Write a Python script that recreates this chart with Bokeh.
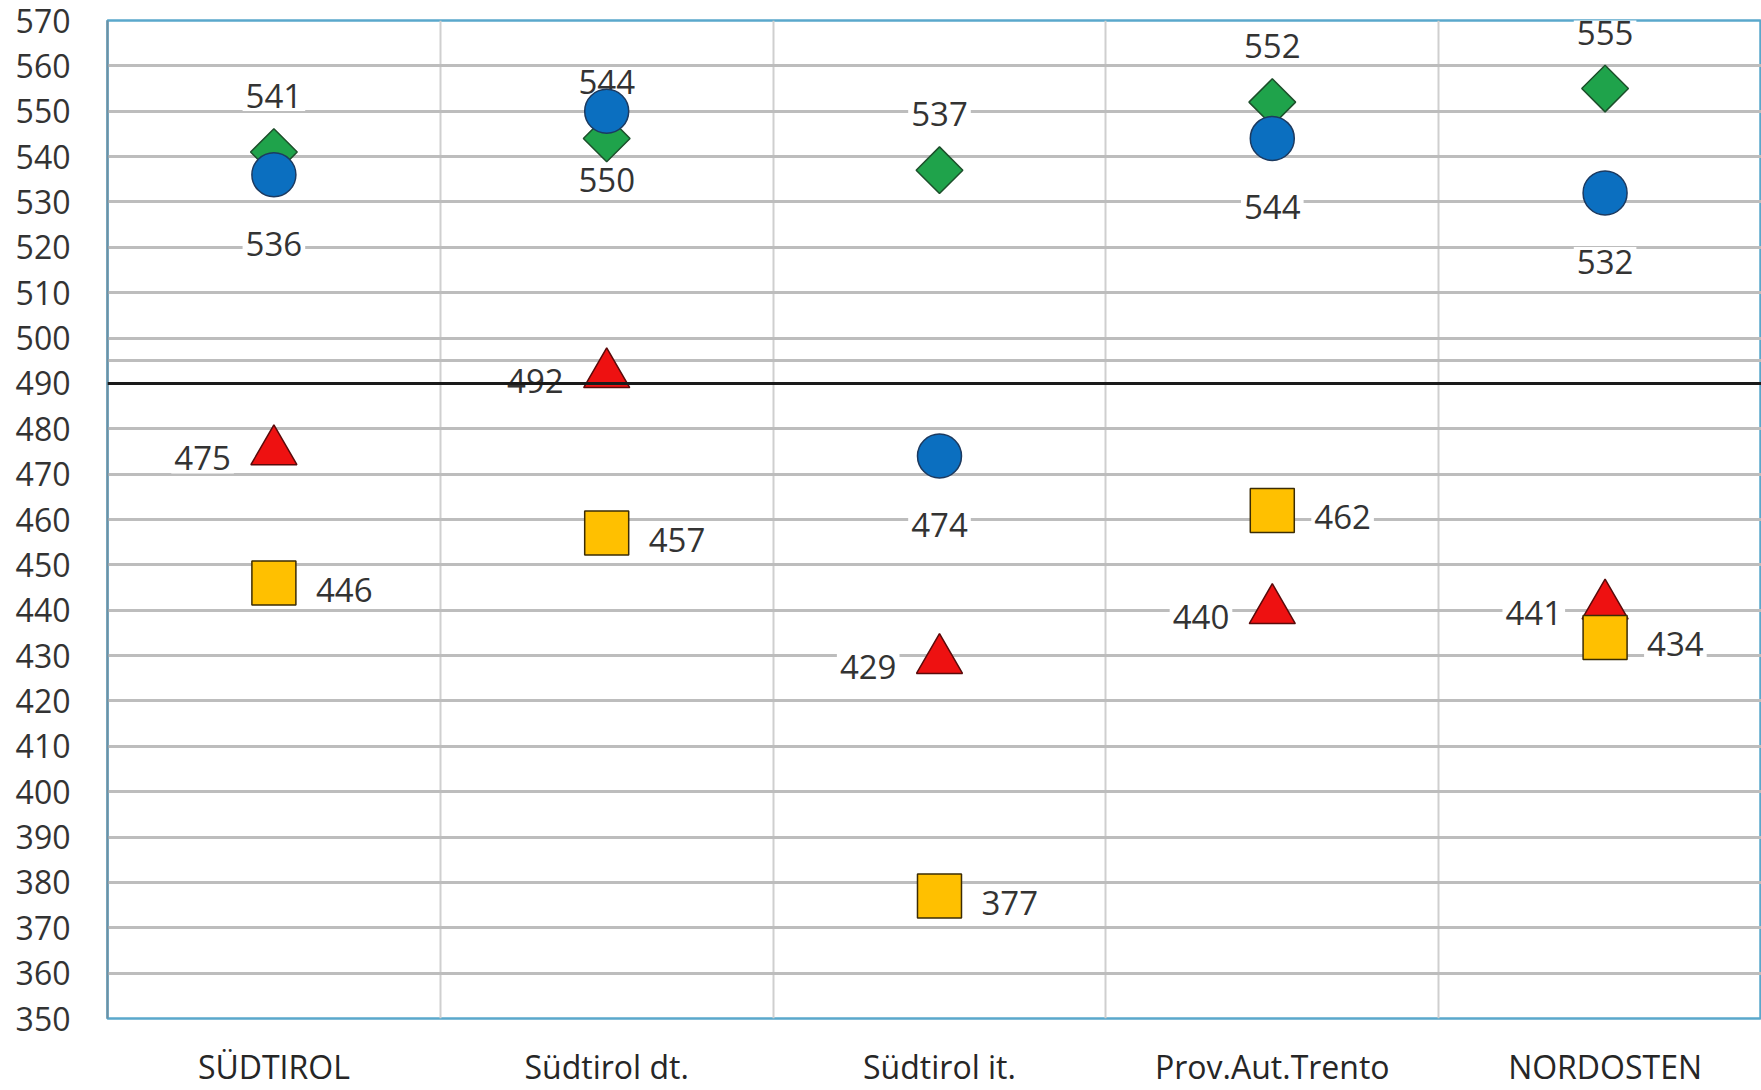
from bokeh.plotting import figure
from bokeh.models import FixedTicker, Span
from bokeh.core.properties import value
from bokeh.embed import file_html
from bokeh.resources import INLINE

# ---- data ----
categories = ["SÜDTIROL", "Südtirol dt.", "Südtirol it.", "Prov.Aut.Trento", "NORDOSTEN"]
green_diamond = [541, 544, 537, 552, 555]
blue_circle = [536, 550, 474, 544, 532]
red_triangle = [475, 492, 429, 440, 441]
yellow_square = [446, 457, 377, 462, 434]
y_ticks = list(range(350, 571, 10))
extra_grid = [495]
reference_value = 490

x = list(range(len(categories)))
FONT = value("Open Sans")

p = figure(width=1761, height=1090, x_range=(-0.5, 4.47), y_range=(350, 570),
           output_backend="svg", toolbar_location=None,
           min_border_left=107, min_border_right=0, min_border_top=20, min_border_bottom=70)
p.background_fill_color = "white"
p.border_fill_color = "white"
p.outline_line_color = "#5aa8cc"
p.outline_line_width = 2.5

# y axis
p.yaxis.ticker = FixedTicker(ticks=y_ticks)
p.yaxis.major_label_standoff = 37
p.yaxis.major_tick_out = 0
p.yaxis.major_tick_in = 0
p.yaxis.minor_tick_out = 0
p.yaxis.minor_tick_in = 0
p.yaxis.axis_line_color = "#6f90a2"
p.yaxis.axis_line_width = 2
p.yaxis.major_label_text_font = "Open Sans"
p.yaxis.major_label_text_font_size = "32px"
p.yaxis.major_label_text_color = "#333333"

# x axis
p.xaxis.ticker = FixedTicker(ticks=x)
p.xaxis.major_label_overrides = {i: c for i, c in enumerate(categories)}
p.xaxis.major_label_standoff = 26
p.xaxis.major_tick_out = 0
p.xaxis.major_tick_in = 0
p.xaxis.minor_tick_out = 0
p.xaxis.minor_tick_in = 0
p.xaxis.axis_line_color = None
p.xaxis.major_label_text_font = "Open Sans"
p.xaxis.major_label_text_font_size = "32px"
p.xaxis.major_label_text_color = "#262626"

# grids
p.ygrid.ticker = FixedTicker(ticks=[t for t in y_ticks if 350 < t < 570] + extra_grid)
p.ygrid.grid_line_color = "#bdbdbd"
p.ygrid.grid_line_width = 3
p.xgrid.ticker = FixedTicker(ticks=[i + 0.5 for i in range(len(categories) - 1)])
p.xgrid.grid_line_color = "#cfcfcf"
p.xgrid.grid_line_width = 2

# data labels (drawn below the markers)
lab = dict(text_font=FONT, text_font_size="33px", text_color="#333333",
           text_baseline="middle", background_fill_color="white", padding=3)
p.text(x=x, y=green_diamond, text=[str(v) for v in green_diamond],
       text_align="center", y_offset=-56, **lab)
p.text(x=x, y=blue_circle, text=[str(v) for v in blue_circle],
       text_align="center", y_offset=69, **lab)
p.text(x=x, y=red_triangle, text=[str(v) for v in red_triangle],
       text_align="right", x_offset=-40, y_offset=7, **lab)
p.text(x=x, y=yellow_square, text=[str(v) for v in yellow_square],
       text_align="left", x_offset=39, y_offset=7, **lab)

# markers
p.scatter(x, green_diamond, marker="square", angle=0.785398, size=33,
          fill_color="#1fa34b", line_color="#1d4f2b", line_width=1.5)
p.scatter(x, blue_circle, marker="circle", size=44,
          fill_color="#0b6fc0", line_color="#1c3a60", line_width=1.5)
p.scatter(x, red_triangle, marker="triangle", size=46,
          fill_color="#ee1111", line_color="#5a0a0a", line_width=1.5)
p.scatter(x, yellow_square, marker="square", size=44,
          fill_color="#ffc000", line_color="#3b2c05", line_width=1.5)

p.add_layout(Span(location=reference_value, dimension="width",
                  line_color="#1a1a1a", line_width=3))

open("out.html", "w").write(file_html(p, INLINE))
